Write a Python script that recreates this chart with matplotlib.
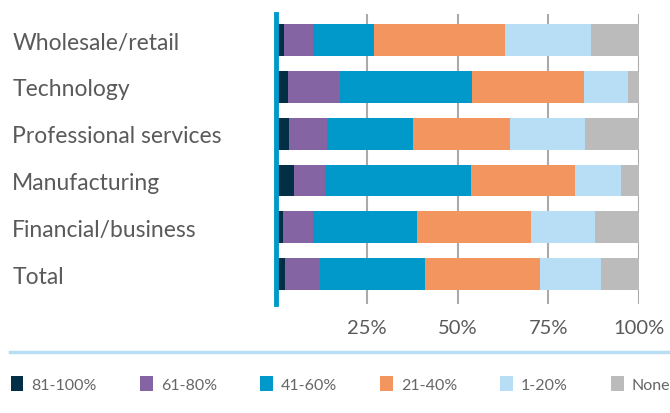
import matplotlib
matplotlib.use("Agg")
import matplotlib.pyplot as plt
from matplotlib.lines import Line2D

plt.rcParams['font.family'] = ['Lato', 'DejaVu Sans']

sectors = ["Wholesale/retail", "Technology", "Professional services",
           "Manufacturing", "Financial/business", "Total"]
bands = ["81-100%", "61-80%", "41-60%", "21-40%", "1-20%", "None"]

# share of respondents per band, one list per band, in sector order
s81_100 = [2.2, 3.2, 3.6, 4.9, 1.9, 2.6]
s61_80 = [8.0, 14.5, 10.5, 8.6, 8.3, 9.5]
s41_60 = [16.7, 36.4, 23.5, 40.1, 28.7, 28.8]
s21_40 = [36.1, 30.6, 26.7, 28.6, 31.2, 31.9]
s1_20 = [23.6, 12.2, 20.9, 12.8, 17.8, 16.8]
s_none = [13.4, 3.1, 14.8, 5.0, 12.1, 10.4]

series = [s81_100, s61_80, s41_60, s21_40, s1_20, s_none]
colors = ["#022f45", "#8564a3", "#0099c9", "#f3955e", "#b8def5", "#bbbbbb"]

xticks = [25, 50, 75, 100]
xtick_labels = ["25%", "50%", "75%", "100%"]

txt = "#5a5a5a"

fig = plt.figure(figsize=(6.7, 4.14), dpi=100)
ax = fig.add_axes([0.412, 0.263, 0.542, 0.701])

ypos = list(range(len(sectors)))
left = [0.0] * len(sectors)
for vals, col, lab in zip(series, colors, bands):
    ax.barh(ypos, vals, left=left, height=0.68, color=col, label=lab, zorder=2)
    left = [a + b for a, b in zip(left, vals)]

ax.set_xlim(0, 100)
ax.set_ylim(5.64, -0.56)
ax.set_xticks(xticks)
ax.set_xticklabels(xtick_labels, fontsize=14.5, color=txt)
ax.grid(axis="x", color="#aaaaaa", linewidth=1.5, zorder=0)
ax.set_axisbelow(True)

ax.set_yticks(ypos)
ax.set_yticklabels(sectors, fontsize=16.5, color=txt)
for lbl in ax.get_yticklabels():
    lbl.set_horizontalalignment("left")
ax.tick_params(axis="y", length=0, pad=190)
ax.tick_params(axis="x", length=0, pad=11)

for side in ["top", "right", "bottom"]:
    ax.spines[side].set_visible(False)
ax.spines["left"].set_color("#0099c9")
ax.spines["left"].set_linewidth(3.5)
ax.spines["left"].set_zorder(3)

# separator above the legend
fig.add_artist(Line2D([0.015, 1.0], [0.147, 0.147], color="#b8def5",
                      linewidth=2.5, transform=fig.transFigure))

handles, labels = ax.get_legend_handles_labels()
fig.legend(handles, labels, loc="center left", bbox_to_anchor=(0.016, 0.07),
           ncol=6, frameon=False, fontsize=11.5, labelcolor="#666666",
           handlelength=0.8, handleheight=1.05, handletextpad=0.5,
           columnspacing=2.7, borderaxespad=0, borderpad=0)

fig.savefig("out.png", dpi=100)
